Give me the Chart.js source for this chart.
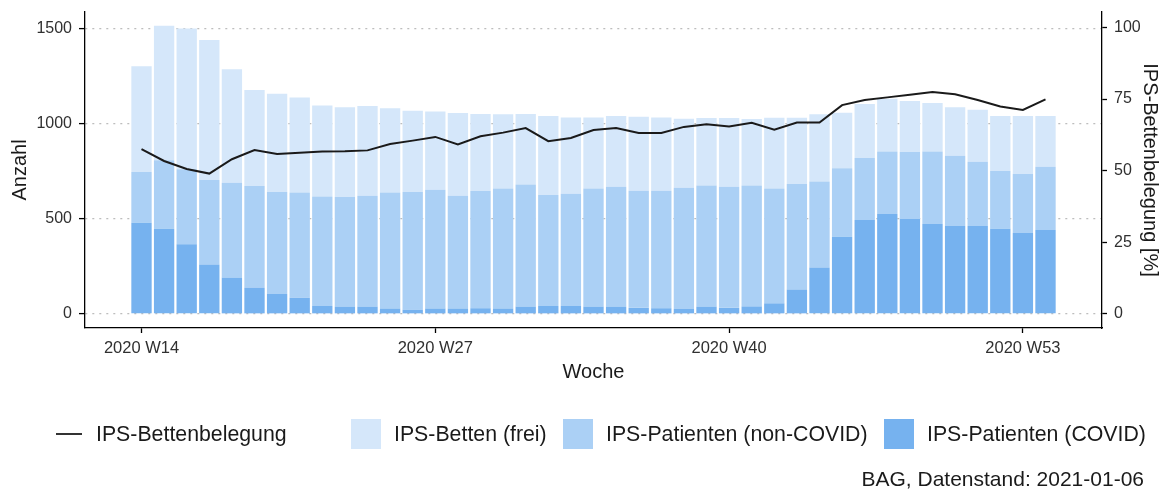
<!DOCTYPE html>
<html lang="de">
<head>
  <meta charset="UTF-8" />
  <title>IPS-Bettenbelegung</title>
  <script src="https://cdn.jsdelivr.net/npm/chart.js@4"></script>
  <style>
    body {
      margin: 0;
      background: #ffffff;
      font-family: 'Liberation Sans', Arial, sans-serif;
    }
    .wrap {
      position: relative;
      width: 1165px;
      height: 490px;
    }
    .legend-item {
      position: absolute;
      display: flex;
      align-items: center;
      height: 30px;
      top: 419px;
      font-size: 21.3px;
      color: #1a1a1a;
      white-space: nowrap;
    }
    .key-box {
      width: 30px;
      height: 30px;
      margin-right: 13px;
    }
    .key-line {
      width: 26px;
      height: 2px;
      background: #333333;
      margin-right: 14px;
    }
    .caption {
      position: absolute;
      right: 21px;
      top: 468px;
      font-size: 21px;
      line-height: 21px;
      color: #1a1a1a;
    }
  </style>
</head>
<body>

<div class="wrap">
  <canvas id="chart" width="1165" height="490"></canvas>

  <div class="legend-item" style="left:56px"><span class="key-line"></span>IPS-Bettenbelegung</div>
  <div class="legend-item" style="left:351px"><span class="key-box" style="background:#d5e7fa"></span>IPS-Betten (frei)</div>
  <div class="legend-item" style="left:563px"><span class="key-box" style="background:#abd0f5"></span>IPS-Patienten (non-COVID)</div>
  <div class="legend-item" style="left:884px"><span class="key-box" style="background:#76b2ef"></span>IPS-Patienten (COVID)</div>
  <div class="caption">BAG, Datenstand: 2021-01-06</div>
</div>

<script>
  // Kalenderwochen
  const weeks = [
    "2020 W14", "2020 W15", "2020 W16", "2020 W17", "2020 W18", "2020 W19", "2020 W20",
    "2020 W21", "2020 W22", "2020 W23", "2020 W24", "2020 W25", "2020 W26", "2020 W27",
    "2020 W28", "2020 W29", "2020 W30", "2020 W31", "2020 W32", "2020 W33", "2020 W34",
    "2020 W35", "2020 W36", "2020 W37", "2020 W38", "2020 W39", "2020 W40", "2020 W41",
    "2020 W42", "2020 W43", "2020 W44", "2020 W45", "2020 W46", "2020 W47", "2020 W48",
    "2020 W49", "2020 W50", "2020 W51", "2020 W52", "2020 W53", "2021 W01"
  ];
  const weekTicks = [0, 13, 26, 39];

  // Anzahl Betten / Patienten pro Woche
  const covid = [480, 449, 367, 261, 191, 139, 105, 86, 42, 39, 39, 28, 23, 28,
    28, 30, 28, 39, 42, 42, 39, 39, 32, 30, 26, 39, 32, 40,
    56, 128, 244, 407, 495, 526, 500, 474, 463, 463, 449, 426, 442];
  const nonCovid = [267, 361, 395, 444, 500, 535, 537, 554, 577, 577, 584, 611, 619, 626,
    595, 617, 632, 642, 584, 591, 621, 631, 617, 619, 639, 638, 638, 637,
    605, 556, 454, 360, 326, 330, 353, 382, 370, 339, 304, 311, 333];
  const frei = [557, 707, 741, 737, 597, 505, 518, 500, 479, 472, 472, 444, 428, 412,
    435, 406, 391, 372, 416, 402, 375, 372, 390, 386, 363, 355, 362, 349,
    372, 349, 353, 293, 284, 277, 268, 255, 256, 273, 289, 305, 267];

  // Bettenbelegung in %
  const belegung = [57.5, 53.4, 50.6, 49.0, 54.0, 57.2, 55.8, 56.3, 56.7, 56.8, 57.1, 59.3, 60.5, 61.8,
    59.2, 62.0, 63.3, 64.9, 60.3, 61.4, 64.2, 64.9, 63.2, 63.2, 65.3, 66.2, 65.4, 66.7,
    64.3, 66.8, 66.8, 72.9, 74.7, 75.6, 76.5, 77.5, 76.7, 74.7, 72.4, 71.2, 74.9];

  const leftTicks = [0, 500, 1000, 1500];
  const rightTicks = [0, 25, 50, 75, 100];

  const toPoints = arr => arr.map((v, i) => ({ x: i, y: v }));
  const FONT = "'Liberation Sans', Arial, sans-serif";
  const TEXT = "#303030";

  // Achsen-Padding der Beschriftungen ignorieren, damit die Plotfläche fix bleibt
  const noPad = s => {
    s.paddingTop = 0;
    s.paddingBottom = 0;
    s.paddingLeft = 0;
    s.paddingRight = 0;
  };

  const barSet = (label, data, color) => ({
    type: "bar",
    label,
    data: toPoints(data),
    backgroundColor: color,
    borderWidth: 0,
    barPercentage: 0.9,
    categoryPercentage: 1,
    yAxisID: "y",
    order: 2
  });

  new Chart(document.getElementById("chart"), {
    data: {
      datasets: [
        {
          type: "line",
          label: "IPS-Bettenbelegung",
          data: toPoints(belegung),
          borderColor: "#1a1a1a",
          borderWidth: 2,
          pointRadius: 0,
          tension: 0,
          yAxisID: "y2",
          order: 1
        },
        barSet("IPS-Patienten (COVID)", covid, "#76b2ef"),
        barSet("IPS-Patienten (non-COVID)", nonCovid, "#abd0f5"),
        barSet("IPS-Betten (frei)", frei, "#d5e7fa")
      ]
    },
    options: {
      responsive: false,
      animation: false,
      layout: { padding: { top: 12, bottom: 106, left: 0, right: 0 } },
      plugins: {
        legend: { display: false },
        tooltip: { enabled: false }
      },
      scales: {
        x: {
          type: "linear",
          stacked: true,
          offset: false,
          min: -2.5,
          max: 42.5,
          afterBuildTicks: s => { s.ticks = weekTicks.map(v => ({ value: v })); },
          afterFit: s => { s.height = 56; noPad(s); },
          ticks: {
            color: TEXT,
            font: { family: FONT, size: 16.5 },
            padding: 6,
            maxRotation: 0,
            autoSkip: false,
            callback: v => weeks[v]
          },
          grid: {
            offset: false,
            drawOnChartArea: false,
            tickLength: 5,
            tickColor: "#000",
            tickWidth: 1.3
          },
          border: { color: "#000", width: 1.3 },
          title: {
            display: true,
            text: "Woche",
            color: "#1a1a1a",
            font: { family: FONT, size: 20 },
            padding: 0
          }
        },
        y: {
          stacked: true,
          position: "left",
          min: -74,
          max: 1590,
          z: 1,
          afterBuildTicks: s => { s.ticks = leftTicks.map(v => ({ value: v })); },
          afterFit: s => { s.width = 85; noPad(s); },
          ticks: {
            color: TEXT,
            font: { family: FONT, size: 16 },
            padding: 7,
            callback: v => String(v)
          },
          grid: {
            color: "#bdbdbd",
            lineWidth: 1.2,
            tickLength: 6,
            tickColor: "#000",
            tickWidth: 1.3,
            tickBorderDash: []
          },
          border: { color: "#000", width: 1.3, dash: [2, 5] },
          title: {
            display: true,
            text: "Anzahl",
            color: "#1a1a1a",
            font: { family: FONT, size: 20 },
            padding: 8
          }
        },
        y2: {
          position: "right",
          min: -4.9,
          max: 105.4,
          afterBuildTicks: s => { s.ticks = rightTicks.map(v => ({ value: v })); },
          afterFit: s => { s.width = 63; noPad(s); },
          ticks: {
            color: TEXT,
            font: { family: FONT, size: 16 },
            padding: 7,
            callback: v => String(v)
          },
          grid: {
            drawOnChartArea: false,
            tickLength: 5,
            tickColor: "#000",
            tickWidth: 1.3
          },
          border: { color: "#000", width: 1.3 },
          title: {
            display: true,
            text: "IPS-Bettenbelegung [%]",
            color: "#1a1a1a",
            font: { family: FONT, size: 20 },
            padding: 3
          }
        }
      }
    }
  });
</script>

</body>
</html>
